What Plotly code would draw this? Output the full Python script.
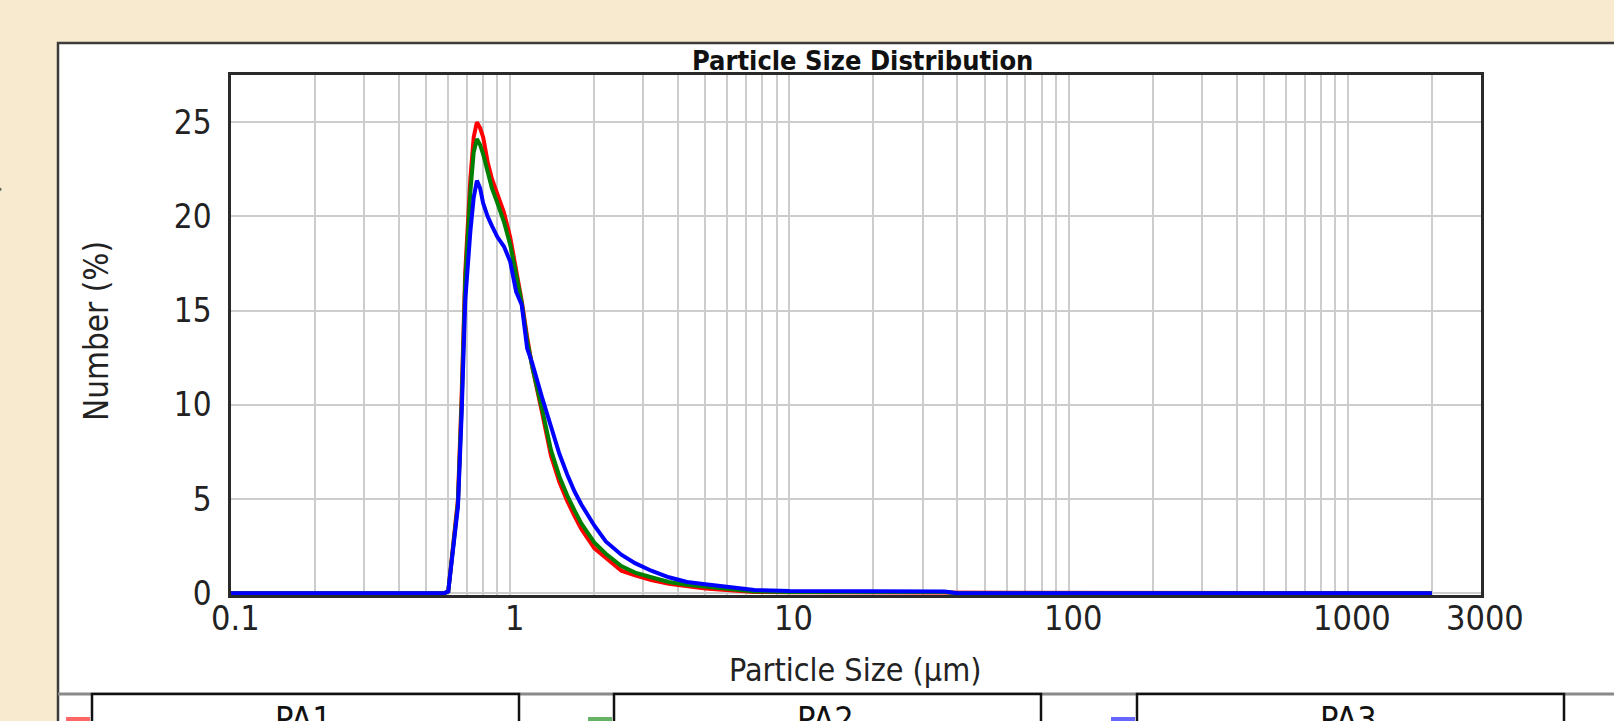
import math
import plotly.graph_objects as go

# ---------------- data ----------------
size_um = [0.1, 0.2, 0.5, 0.58, 0.60, 0.62, 0.65, 0.67, 0.69, 0.72, 0.74, 0.76, 0.78, 0.80,
           0.83, 0.86, 0.90, 0.95, 1.0, 1.05, 1.1, 1.15, 1.2, 1.3, 1.4, 1.5, 1.6, 1.7, 1.8,
           2.0, 2.2, 2.5, 2.8, 3.2, 3.7, 4.3, 5.0, 5.6, 6.5, 7.5, 10, 15, 20, 30, 36, 40,
           100, 500, 2000]

pa1 = [0, 0, 0, 0, 0.1, 2.2, 5.0, 10.5, 17.0, 22.0, 24.2, 25.0, 24.7, 24.2,
       22.9, 22.0, 21.1, 20.2, 18.9, 17.2, 15.5, 13.6, 12.0, 9.6, 7.3, 5.9, 4.9, 4.1, 3.4,
       2.4, 1.9, 1.2, 0.95, 0.7, 0.5, 0.35, 0.25, 0.2, 0.12, 0.07, 0.05, 0.05, 0.05, 0.05, 0.05, 0,
       0, 0, 0]

pa2 = [0, 0, 0, 0, 0.1, 2.1, 4.8, 10.0, 16.5, 21.3, 23.4, 24.1, 23.8, 23.3,
       22.3, 21.5, 20.7, 19.7, 18.5, 17.0, 15.4, 13.4, 12.0, 9.8, 7.6, 6.2, 5.2, 4.4, 3.7,
       2.7, 2.1, 1.45, 1.1, 0.85, 0.6, 0.45, 0.35, 0.28, 0.18, 0.1, 0.07, 0.07, 0.07, 0.07, 0.07, 0,
       0, 0, 0]

pa3 = [0, 0, 0, 0, 0.1, 2.0, 4.6, 9.5, 15.5, 19.2, 21.0, 21.9, 21.5, 20.7,
       20.0, 19.5, 18.9, 18.4, 17.6, 16.0, 15.3, 13.0, 12.2, 10.4, 8.8, 7.4, 6.3, 5.4, 4.7,
       3.6, 2.75, 2.05, 1.6, 1.2, 0.85, 0.6, 0.48, 0.4, 0.3, 0.17, 0.12, 0.12, 0.12, 0.12, 0.1, 0,
       0, 0, 0]

series_names = ["PA1", "PA2", "PA3"]
series_values = [pa1, pa2, pa3]
series_colors = ["#FF0000", "#008000", "#0000FF"]

x_min, x_max = 0.1, 3000
x_label_values = [0.1, 1, 10, 100, 1000, 3000]
x_label_text = ["0.1", "1", "10", "100", "1000", "3000"]
x_grid_values = [m * 10 ** e for e in range(-1, 4) for m in range(1, 10) if m * 10 ** e <= 3000]
y_tick_values = [0, 5, 10, 15, 20, 25]

title_text = "Particle Size Distribution"
x_title = "Particle Size (µm)"
y_title = "Number (%)"

# ---------------- layout geometry (pixels) ----------------
W, H = 1614, 721
L, R, T, B = 231, 133, 75, 126
PW, PH = W - L - R, H - T - B


def px(xp):
    return (xp - L) / PW


def py(yp):
    return (H - B - yp) / PH


FONT = "DejaVu Sans Condensed, DejaVu Sans, sans-serif"

fig = go.Figure()
for name, vals, col in zip(series_names, series_values, series_colors):
    fig.add_trace(go.Scatter(x=size_um, y=vals, name=name, mode="lines",
                             line=dict(color=col, width=4), showlegend=False))

tickvals = sorted(set(x_grid_values + x_label_values))

shapes = [
    # white panel
    dict(type="rect", xref="paper", yref="paper", x0=px(58), x1=px(W + 20), y0=py(43), y1=py(H + 30),
         fillcolor="white", line=dict(color="#3C3C3C", width=2.5), layer="below"),
    # legend row separator
    dict(type="line", xref="paper", yref="paper", x0=px(58), x1=px(W + 20), y0=py(694), y1=py(694),
         line=dict(color="#8A8A8A", width=3)),
]

annotations = [
    dict(text="<b>" + title_text + "</b>", xref="paper", yref="paper", x=px(862), y=1,
         xanchor="center", yanchor="bottom", yshift=-3, showarrow=False,
         font=dict(family=FONT, size=27, color="#111")),
    dict(text=x_title, xref="paper", yref="paper", x=px(855), y=py(670),
         xanchor="center", yanchor="middle", showarrow=False,
         font=dict(family=FONT, size=32, color="#222")),
    dict(text=y_title, xref="paper", yref="paper", x=px(96), y=py(331), textangle=-90,
         xanchor="center", yanchor="middle", showarrow=False,
         font=dict(family=FONT, size=33, color="#222")),
    dict(text="◆", xref="paper", yref="paper", x=px(-5), y=py(187),
         xanchor="center", yanchor="middle", showarrow=False,
         font=dict(size=18, color="#7A5A10")),
]

# x tick labels placed on the log axis (annotation x is in log10 units)
for v, t in zip(x_label_values, x_label_text):
    annotations.append(dict(text=t, xref="x", yref="paper", x=math.log10(v), y=py(596),
                            xanchor="center", yanchor="top", xshift=4, showarrow=False,
                            font=dict(family=FONT, size=34, color="#222")))

# legend table (boxes, swatches, names)
box_left = [92, 614, 1137]
box_w = 427
sw_w = 24
for i, (name, col) in enumerate(zip(series_names, series_colors)):
    bl = box_left[i]
    shapes.append(dict(type="rect", xref="paper", yref="paper", x0=px(bl), x1=px(bl + box_w),
                       y0=py(694), y1=py(H + 30), line=dict(color="#111", width=2.5),
                       fillcolor="white"))
    shapes.append(dict(type="rect", xref="paper", yref="paper", x0=px(bl - sw_w - 2), x1=px(bl - 2),
                       y0=py(717), y1=py(727), line=dict(width=0), fillcolor=col, opacity=0.6))
    annotations.append(dict(text=name, xref="paper", yref="paper", x=px(bl + box_w / 2 - 2), y=py(697),
                            xanchor="center", yanchor="top", showarrow=False,
                            font=dict(family=FONT, size=34, color="#111")))

fig.update_layout(
    width=W, height=H,
    margin=dict(l=L, r=R, t=T, b=B, pad=0),
    paper_bgcolor="#F8EACF",
    plot_bgcolor="white",
    shapes=shapes,
    annotations=annotations,
    xaxis=dict(type="log", range=[math.log10(x_min), math.log10(x_max) + 1e-6], tickvals=tickvals,
               showticklabels=False,
               showgrid=True, gridcolor="#CDCDCD", gridwidth=2, zeroline=False,
               ticks="", showline=True, mirror=True, linecolor="#2A2A2A", linewidth=2.5,
               layer="below traces"),
    yaxis=dict(range=[-0.09, 27.5], tickvals=y_tick_values, showgrid=True, gridcolor="#CDCDCD",
               gridwidth=2, zeroline=False, ticks="", showline=True, mirror=True,
               linecolor="#2A2A2A", linewidth=2.5, layer="below traces", ticklabelstandoff=10,
               tickfont=dict(family=FONT, size=33, color="#222")),
    showlegend=False,
)

fig.write_html("out.html", config={"displayModeBar": False},
               post_script="document.body.style.margin='0';document.body.style.overflow='hidden';")
